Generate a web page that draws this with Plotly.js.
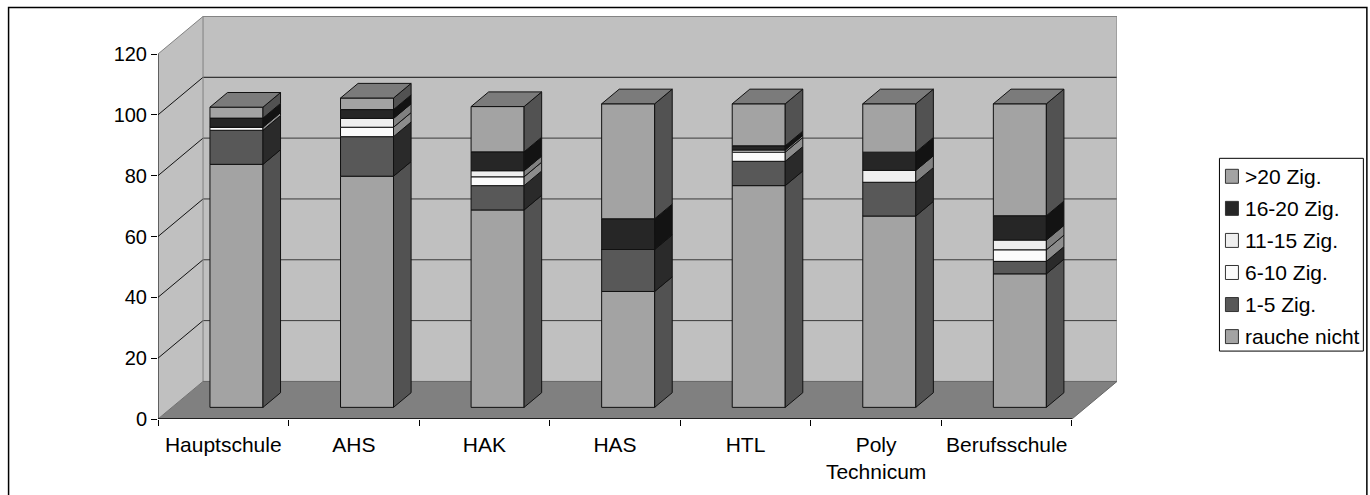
<!DOCTYPE html>
<html><head><meta charset="utf-8">
<script src="https://cdn.plot.ly/plotly-3.0.1.min.js"></script>
<style>html,body{margin:0;padding:0;background:#fff}#c{width:1370px;height:495px}</style></head>
<body><div id="c"></div>
<script>
const categories = ['Hauptschule','AHS','HAK','HAS','HTL','Poly<br>Technicum','Berufsschule'];
const yTicks = [0,20,40,60,80,100,120];
const seriesNames = ['rauche nicht','1-5 Zig.','6-10 Zig.','11-15 Zig.','16-20 Zig.','>20 Zig.'];
const raucheNicht = [79.9,76.0,64.9,38.1,72.9,62.9,43.9];
const zig1to5     = [11.2,13.0,8.0,13.8,8.0,11.1,4.1];
const zig6to10    = [1.0,3.1,2.9,0,3.0,0,3.8];
const zig11to15   = [0,2.9,2.0,0,0.7,3.9,3.2];
const zig16to20   = [3.0,2.9,6.2,10.1,1.4,6.0,8.0];
const zigOver20   = [3.6,3.8,14.9,37.8,13.8,15.9,36.8];
const frontColors = ['#a3a3a3','#585858','#fbfbfb','#efefef','#262626','#a3a3a3'];
const sideColors  = ['#525252','#2a2a2a','#8c8c8c','#808080','#131313','#525252'];
const topColor = '#7b7b7b';
const series = [raucheNicht,zig1to5,zig6to10,zig11to15,zig16to20,zigOver20];

// oblique projection of the Excel 3D box, in axis units
const wallDx = 0.345, wallDy = 12.35;       // depth of the whole box
const barZ = 0.31, barDepth = 0.39;         // bar front and depth as a share of the box depth
const barW = 0.406;
const xMax = 7 + wallDx, yMax = 132.5;
const fx = barZ*wallDx - 0.006, fy = barZ*wallDy, ddx = barDepth*wallDx, ddy = barDepth*wallDy;
const centers = categories.map((_,i)=>i+0.5+fx);

const traces = [];
const cum = categories.map(()=>0);
series.forEach((vals,s)=>{
  const base = vals.map((v,i)=>cum[i]+fy);
  traces.push({type:'bar',name:seriesNames[s],x:centers,y:vals,base:base,width:barW,
    marker:{color:frontColors[s],line:{color:'#111',width:1}},hoverinfo:'name+y',showlegend:false});
  vals.forEach((v,i)=>{
    if(v<=0) return;
    const r = centers[i]+barW/2;
    traces.push({type:'scatter',mode:'lines',fill:'toself',fillcolor:sideColors[s],
      x:[r,r+ddx,r+ddx,r,r],y:[base[i],base[i]+ddy,base[i]+v+ddy,base[i]+v,base[i]],
      line:{color:'#111',width:1},hoverinfo:'skip',showlegend:false});
    cum[i]+=v;
  });
});
// top faces
categories.forEach((_,i)=>{
  const l=centers[i]-barW/2, r=centers[i]+barW/2, t=cum[i]+fy;
  traces.push({type:'scatter',mode:'lines',fill:'toself',fillcolor:topColor,
    x:[l,l+ddx,r+ddx,r,l],y:[t,t+ddy,t+ddy,t,t],line:{color:'#111',width:1},hoverinfo:'skip',showlegend:false});
});
// secondary axis carries the category separator ticks
traces.push({type:'scatter',mode:'markers',x:[0],y:[0],xaxis:'x2',marker:{opacity:0},hoverinfo:'skip',showlegend:false});

const shapes = [];
const line=(x0,y0,x1,y1,color,width,layer)=>({type:'line',xref:'x',yref:'y',x0,y0,x1,y1,layer:layer||'below',line:{color,width}});
const poly=(pts,fill)=>({type:'path',xref:'x',yref:'y',layer:'below',fillcolor:fill,line:{width:0},
  path:'M'+pts.map(p=>p.join(',')).join('L')+'Z'});
const nCat = categories.length, yTop = yTicks[yTicks.length-1];
shapes.push(poly([[0,0],[wallDx,wallDy],[wallDx,yTop+wallDy],[0,yTop]],'#c0c0c0'));
shapes.push(poly([[wallDx,wallDy],[nCat+wallDx,wallDy],[nCat+wallDx,yTop+wallDy],[wallDx,yTop+wallDy]],'#c0c0c0'));
shapes.push(poly([[0,0],[nCat,0],[nCat+wallDx,wallDy],[wallDx,wallDy]],'#808080'));
yTicks.slice(1,-1).forEach(t=>{
  shapes.push(line(wallDx,t+wallDy,nCat+wallDx,t+wallDy,t===100?'#111':'#3a3a3a',1));
  shapes.push(line(0,t,wallDx,t+wallDy,'#111',1));
});
shapes.push(line(wallDx,wallDy,wallDx,yTop+wallDy,'#808080',1));
shapes.push(line(0,yTop,wallDx,yTop+wallDy,'#808080',1));
shapes.push(line(wallDx,yTop+wallDy,nCat+wallDx,yTop+wallDy,'#808080',1));
shapes.push(line(nCat+wallDx,wallDy,nCat+wallDx,yTop+wallDy,'#808080',1));
shapes.push(line(0,0,wallDx,wallDy,'#707070',1));
shapes.push(line(wallDx,wallDy,nCat+wallDx,wallDy,'#666',1));
shapes.push(line(nCat,0,nCat+wallDx,wallDy,'#666',1));
shapes.push(line(0,0,0,yTop,'#000',1,'above'));
shapes.push(line(0,0,nCat,0,'#000',1.5,'above'));

// chart frame (its lower edge lies beyond the picture)
const pxX = x=>(x-157.5)/959.5, pxY = y=>(419.5-y)/403.5;
const font = {family:'"Liberation Sans",Arial,sans-serif',size:21,color:'#000'};
const yFont = {family:'"Liberation Sans",Arial,sans-serif',size:20,color:'#000'};
shapes.push({type:'rect',xref:'paper',yref:'paper',layer:'above',x0:pxX(8),x1:pxX(1367),y0:pxY(510),y1:pxY(7.5),line:{color:'#000',width:1.5},fillcolor:'rgba(0,0,0,0)'});
// legend box, listed top-down from the last series
shapes.push({type:'rect',xref:'paper',yref:'paper',x0:pxX(1219.5),x1:pxX(1363.5),y0:pxY(351.5),y1:pxY(158.5),line:{color:'#000',width:1},fillcolor:'#fff'});
const annotations = [];
seriesNames.slice().reverse().forEach((n,k)=>{
  const yc = 176.5 + k*32.1, c = frontColors[seriesNames.length-1-k];
  shapes.push({type:'rect',xref:'paper',yref:'paper',x0:pxX(1225.5),x1:pxX(1238.5),y0:pxY(yc+7),y1:pxY(yc-7),line:{color:'#333',width:1},fillcolor:c});
  annotations.push({xref:'paper',yref:'paper',x:pxX(1244),y:pxY(yc),text:n,showarrow:false,xanchor:'left',yanchor:'middle',font:font,borderpad:0});
});

const layout = {
  width:1370,height:495,margin:{l:157.5,r:252.5,t:16,b:75.5,pad:0},
  paper_bgcolor:'#fff',plot_bgcolor:'rgba(0,0,0,0)',barmode:'overlay',showlegend:false,
  font:font,
  xaxis:{range:[0,xMax],tickmode:'array',tickvals:categories.map((_,i)=>i+0.5),ticktext:categories,ticks:'',ticklabelstandoff:11,showgrid:false,zeroline:false,showline:false,tickfont:font,automargin:false},
  xaxis2:{overlaying:'x',side:'bottom',anchor:'y',range:[0,xMax],tickmode:'array',tickvals:categories.map((_,i)=>i).concat([nCat]),ticktext:categories.map(()=>'').concat(['']),ticks:'outside',ticklen:6,tickcolor:'#000',tickwidth:1,showgrid:false,zeroline:false,showline:false},
  yaxis:{range:[0,yMax],tickmode:'array',tickvals:yTicks,ticks:'outside',ticklen:6,tickcolor:'#000',tickwidth:1,showgrid:false,zeroline:false,showline:false,tickfont:yFont,automargin:false},
  shapes:shapes,annotations:annotations
};
Plotly.newPlot('c',traces,layout,{displayModeBar:false,staticPlot:true});
</script></body></html>
